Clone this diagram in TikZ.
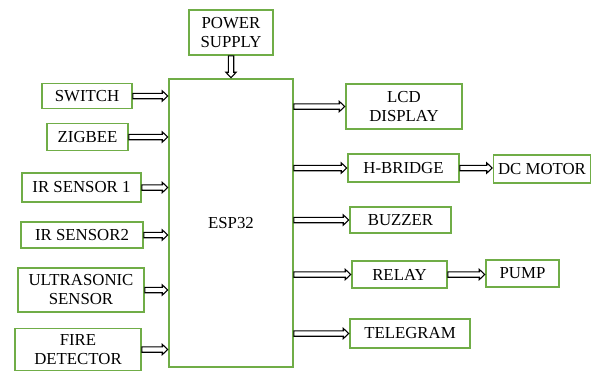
\documentclass[tikz,border=0pt]{standalone}
\usepackage{fontspec}
\setmainfont{Liberation Serif}
\usetikzlibrary{calc}
\definecolor{boxgreen}{RGB}{112,173,71}
\tikzset{
  blk/.style={draw=boxgreen, line width=1.6pt, fill=white, inner sep=0pt, align=center,
    font=\fontsize{16.8}{19}\selectfont, text=black},
  blockarr/.style={draw=black, fill=white, line width=1.1pt, line join=miter,
    to path={let \p1=(\tikztostart), \p2=(\tikztotarget),
      \n1={atan2(\y2-\y1,\x2-\x1)}, \n2={veclen(\x2-\x1,\y2-\y1)} in
      {[shift={(\p1)}, rotate=\n1]
       (0pt,-2.7pt) -- ({\n2-6pt},-2.7pt) -- ({\n2-6pt},-5.2pt) -- ({\n2-0.5pt},0pt)
       -- ({\n2-6pt},5.2pt) -- ({\n2-6pt},2.7pt) -- (0pt,2.7pt) -- cycle}}}
}
\begin{document}
\begin{tikzpicture}[x=1pt,y=-1pt]
\useasboundingbox (0,0) rectangle (593,372);
% centre node
\node[blk, minimum width=124pt, minimum height=288pt] (esp) at (231,223) {ESP32};
\node[blk, minimum width=84pt, minimum height=45pt] (power) at (231,32.5) {POWER\\SUPPLY};
% inputs
\node[blk, minimum width=90pt, minimum height=25pt] (switch) at (87,96) {SWITCH};
\node[blk, minimum width=81pt, minimum height=27pt] (zigbee) at (87.5,137) {ZIGBEE};
\node[blk, minimum width=119pt, minimum height=29pt] (ir1) at (81.5,187.5) {IR SENSOR 1};
\node[blk, minimum width=122pt, minimum height=26pt] (ir2) at (82,235) {IR SENSOR2};
\node[blk, minimum width=126pt, minimum height=44pt] (ultra) at (81,290) {ULTRASONIC\\SENSOR};
\node[blk, minimum width=126pt, minimum height=42pt] (fire) at (78,349.5) {FIRE\\DETECTOR};
% outputs
\node[blk, minimum width=116pt, minimum height=45pt] (lcd) at (404,106.5) {LCD\\DISPLAY};
\node[blk, minimum width=111pt, minimum height=28pt] (hbridge) at (403.5,168) {H-BRIDGE};
\node[blk, minimum width=97pt, minimum height=28pt] (motor) at (542,169) {DC MOTOR};
\node[blk, minimum width=101pt, minimum height=26pt] (buzzer) at (400.5,220) {BUZZER};
\node[blk, minimum width=95pt, minimum height=27pt] (relay) at (399.5,274.5) {RELAY};
\node[blk, minimum width=73pt, minimum height=27pt] (pump) at (522.5,273.5) {PUMP};
\node[blk, minimum width=120pt, minimum height=29pt] (telegram) at (410,333.5) {TELEGRAM};
% arrows
\draw[blockarr] (power.south) to (esp.north);
\foreach \nm in {switch,zigbee,ir1,ir2,ultra,fire}
  \draw[blockarr] (\nm.east) to (\nm.east -| esp.west);
\foreach \nm in {lcd,hbridge,buzzer,relay,telegram}
  \draw[blockarr] (esp.east |- \nm.west) to (\nm.west);
\draw[blockarr] (hbridge.east) to (hbridge.east -| motor.west);
\draw[blockarr] (relay.east) to (relay.east -| pump.west);
\end{tikzpicture}
\end{document}
